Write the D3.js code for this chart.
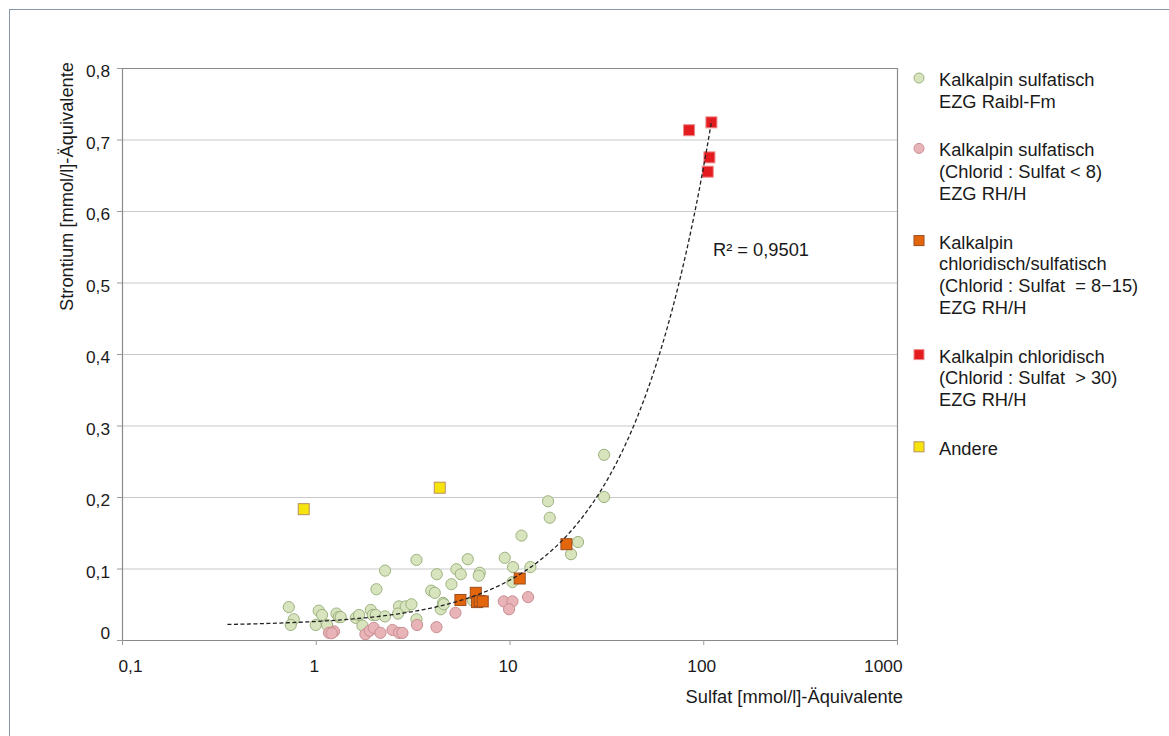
<!DOCTYPE html>
<html>
<head>
<meta charset="utf-8">
<script src="https://cdn.jsdelivr.net/npm/d3@7"></script>
<style>
  html, body { margin: 0; padding: 0; background: #ffffff; }
  svg { display: block; font-family: "Liberation Sans", Arial, Helvetica, sans-serif; }
  text { fill: #1a1a1a; }
</style>
</head>
<body>
<svg id="chart" width="1169" height="736"></svg>
<script>
// Sulfat [mmol/l]-Äquivalente vs. Strontium [mmol/l]-Äquivalente, one array of [sulfat, strontium] per group
const raiblPoints = [
  [0.726, 0.046], [0.770, 0.029], [0.743, 0.021], [1.00, 0.021], [1.036, 0.041],
  [1.078, 0.035], [1.144, 0.021], [1.279, 0.037], [1.314, 0.032], [1.346, 0.032],
  [1.609, 0.031], [1.673, 0.035], [1.742, 0.020], [1.922, 0.042], [1.969, 0.035],
  [2.040, 0.035], [2.279, 0.033], [2.057, 0.071], [2.279, 0.097], [2.691, 0.047],
  [2.659, 0.037], [2.914, 0.047], [3.118, 0.050], [3.310, 0.112], [3.310, 0.029],
  [3.946, 0.069], [4.114, 0.066], [4.213, 0.092], [4.418, 0.043], [4.540, 0.052],
  [4.578, 0.050], [5.016, 0.078], [5.323, 0.099], [5.603, 0.092], [6.088, 0.113],
  [6.485, 0.055], [7.022, 0.094], [6.939, 0.090], [9.452, 0.115], [10.43, 0.102],
  [12.83, 0.102], [10.36, 0.081], [11.53, 0.146], [15.81, 0.194], [16.13, 0.171],
  [20.78, 0.120], [22.59, 0.137], [30.76, 0.259], [30.76, 0.200]
];
const sulfatischRhPoints = [
  [1.171, 0.010], [1.243, 0.012], [1.209, 0.0095], [1.805, 0.008], [1.900, 0.013],
  [1.992, 0.017], [2.158, 0.010], [2.489, 0.014], [2.691, 0.010], [2.802, 0.010],
  [3.333, 0.021], [4.198, 0.018], [5.260, 0.038], [9.340, 0.054], [10.36, 0.054],
  [9.950, 0.043], [12.47, 0.060]
];
const chloridSulfatPoints = [
  [5.581, 0.056], [6.697, 0.066], [6.801, 0.053], [7.022, 0.0545], [7.276, 0.054],
  [11.29, 0.086], [19.67, 0.134]
];
const chloridischPoints = [
  [84.48, 0.713], [110.2, 0.724], [107.6, 0.675], [105.5, 0.655]
];
const anderePoints = [
  [0.867, 0.183], [4.365, 0.213]
];

// linear trend (y = intercept + slope * x) drawn over the sulfat range
const trendIntercept = 0.0195;
const trendSlope = 0.0064;
const trendRange = [0.35, 110.5];
const trendLabel = "R² = 0,9501";

const xTicks = [0.1, 1, 10, 100, 1000];
const xTickLabels = ["0,1", "1", "10", "100", "1000"];
const yTicks = [0, 0.1, 0.2, 0.3, 0.4, 0.5, 0.6, 0.7, 0.8];
const yTickLabels = ["0", "0,1", "0,2", "0,3", "0,4", "0,5", "0,6", "0,7", "0,8"];

const xTitle = "Sulfat [mmol/l]-Äquivalente";
const yTitle = "Strontium [mmol/l]-Äquivalente";

const legendEntries = [
  { shape: "circle", fill: "#d7e4be", stroke: "#9db27f",
    lines: ["Kalkalpin sulfatisch", "EZG Raibl-Fm"] },
  { shape: "circle", fill: "#e8b4b7", stroke: "#c98e92",
    lines: ["Kalkalpin sulfatisch", "(Chlorid : Sulfat < 8)", "EZG RH/H"] },
  { shape: "square", fill: "#e3660c", stroke: "#9c4c1e",
    lines: ["Kalkalpin", "chloridisch/sulfatisch", "(Chlorid : Sulfat  = 8\u221215)", "EZG RH/H"] },
  { shape: "square", fill: "#e41c1f", stroke: "#ee8a8a",
    lines: ["Kalkalpin chloridisch", "(Chlorid : Sulfat  > 30)", "EZG RH/H"] },
  { shape: "square", fill: "#f6e40c", stroke: "#b89060",
    lines: ["Andere"] }
];

const labelSize = "18.3px";
const tickSize = "17.3px";

const svg = d3.select("#chart");

// outer frame
svg.append("rect")
  .attr("x", 9.5).attr("y", 9.5)
  .attr("width", 1200).attr("height", 800)
  .attr("fill", "none").attr("stroke", "#8497aa").attr("stroke-width", 1);

const plot = { left: 122, right: 897, top: 68, bottom: 640 };

const x = d3.scaleLog().domain([0.1, 1000]).range([plot.left, plot.right]);
const y = d3.scaleLinear().domain([0, 0.8]).range([plot.bottom, plot.top]);

// horizontal gridlines
const grid = svg.append("g")
  .attr("transform", `translate(${plot.left},0)`)
  .call(d3.axisLeft(y).tickValues(yTicks.slice(1, -1)).tickSize(-(plot.right - plot.left)).tickFormat(""));
grid.select(".domain").remove();
grid.selectAll(".tick line").attr("stroke", "#c9c9c9").attr("stroke-width", 1.2);

// plot box (top and right edges)
svg.append("path")
  .attr("d", `M${plot.left},${plot.top + 0.5}H${plot.right + 0.5}V${plot.bottom}`)
  .attr("fill", "none").attr("stroke", "#8a8a8a").attr("stroke-width", 1.2);

// y axis
const yAxis = svg.append("g")
  .attr("transform", `translate(${plot.left},0)`)
  .call(d3.axisLeft(y).tickValues(yTicks).tickSize(5).tickSizeOuter(0)
    .tickFormat((d, i) => yTickLabels[i]));
yAxis.select(".domain").attr("stroke", "#8a8a8a").attr("stroke-width", 1.2);
yAxis.selectAll(".tick line").attr("stroke", "#9a9a9a");
yAxis.selectAll(".tick text")
  .attr("x", -12)
  .attr("dy", (d) => d === 0 ? "-0.1em" : "0.5em")
  .style("font-size", tickSize).style("font-family", "inherit").attr("fill", "#1a1a1a");

// x axis
const xAxis = svg.append("g")
  .attr("transform", `translate(0,${plot.bottom})`)
  .call(d3.axisBottom(x).tickValues(xTicks).tickSize(5).tickSizeOuter(0)
    .tickFormat((d, i) => xTickLabels[i]));
xAxis.select(".domain").attr("stroke", "#8a8a8a").attr("stroke-width", 1.2);
xAxis.selectAll(".tick line").attr("stroke", "#9a9a9a");
xAxis.selectAll(".tick text")
  .attr("y", 20).attr("dy", "0.71em")
  .style("font-size", tickSize).style("font-family", "inherit").attr("fill", "#1a1a1a")
  .attr("text-anchor", (d, i) => i === 0 ? "start" : (i === xTicks.length - 1 ? "end" : "middle"))
  .attr("x", (d, i) => i === 0 ? -4 : (i === xTicks.length - 1 ? 5 : -2));

// axis titles
svg.append("text")
  .attr("x", 903).attr("y", 703)
  .attr("text-anchor", "end")
  .style("font-size", labelSize)
  .text(xTitle);

svg.append("text")
  .attr("transform", "translate(73,62) rotate(-90)")
  .attr("text-anchor", "end")
  .style("font-size", labelSize)
  .text(yTitle);

// markers
const markers = svg.append("g");
function drawCircles(data, fill, stroke) {
  markers.append("g").selectAll("circle").data(data).join("circle")
    .attr("cx", d => x(d[0])).attr("cy", d => y(d[1])).attr("r", 5.6)
    .attr("fill", fill).attr("stroke", stroke).attr("stroke-width", 1);
}
function drawSquares(data, fill, stroke) {
  const s = 11;
  markers.append("g").selectAll("rect").data(data).join("rect")
    .attr("x", d => x(d[0]) - s / 2).attr("y", d => y(d[1]) - s / 2)
    .attr("width", s).attr("height", s)
    .attr("fill", fill).attr("stroke", stroke).attr("stroke-width", 1);
}
drawCircles(raiblPoints, legendEntries[0].fill, legendEntries[0].stroke);
drawCircles(sulfatischRhPoints, legendEntries[1].fill, legendEntries[1].stroke);
drawSquares(chloridSulfatPoints, legendEntries[2].fill, legendEntries[2].stroke);
drawSquares(chloridischPoints, legendEntries[3].fill, legendEntries[3].stroke);
drawSquares(anderePoints, legendEntries[4].fill, legendEntries[4].stroke);

// trendline, sampled evenly along the log axis
const logStart = Math.log10(trendRange[0]), logEnd = Math.log10(trendRange[1]);
const trendXs = d3.range(0, 201).map(i => Math.pow(10, logStart + (logEnd - logStart) * i / 200));
svg.append("path")
  .datum(trendXs)
  .attr("d", d3.line().x(v => x(v)).y(v => y(trendIntercept + trendSlope * v)))
  .attr("fill", "none").attr("stroke", "#222").attr("stroke-width", 1.3)
  .attr("stroke-dasharray", "4,2.5");

svg.append("text")
  .attr("x", 713).attr("y", 256)
  .style("font-size", labelSize)
  .text(trendLabel);

// legend
const lineH = 21.8, entryGap = 26.8;
let baseY = 86;
const legend = svg.append("g");
legendEntries.forEach(e => {
  const g = legend.append("g");
  const my = baseY - 8;
  if (e.shape === "circle") {
    g.append("circle").attr("cx", 919).attr("cy", my).attr("r", 5)
      .attr("fill", e.fill).attr("stroke", e.stroke);
  } else {
    g.append("rect").attr("x", 914).attr("y", my - 5).attr("width", 10).attr("height", 10)
      .attr("fill", e.fill).attr("stroke", e.stroke);
  }
  e.lines.forEach((t, i) => {
    g.append("text").attr("x", 939).attr("y", baseY + i * lineH)
      .style("font-size", labelSize).style("white-space", "pre")
      .text(t);
  });
  baseY += e.lines.length * lineH + entryGap;
});
</script>
</body>
</html>
